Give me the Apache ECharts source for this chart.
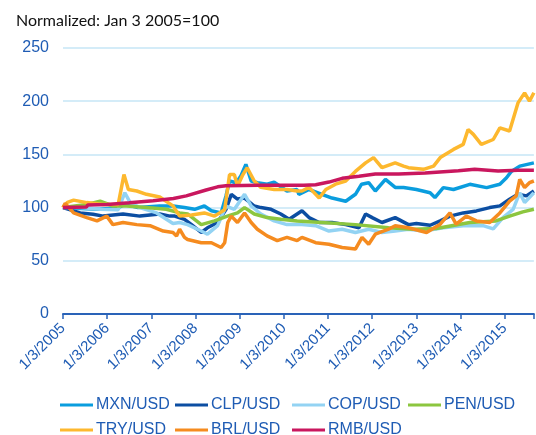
<!DOCTYPE html>
<html>
<head>
<meta charset="utf-8">
<script src="https://cdn.jsdelivr.net/npm/echarts@6/dist/echarts.min.js"></script>
<style>html,body{margin:0;padding:0;background:#fff}#c{width:536px;height:435px}</style>
</head>
<body>
<div id="c"></div>
<script>
// x = decimal year (2005.00 = Jan 3 2005), y = normalized value
const yearTicks = [2005,2006,2007,2008,2009,2010,2011,2012,2013,2014,2015];
const seriesNames = ['MXN/USD','CLP/USD','COP/USD','PEN/USD','TRY/USD','BRL/USD','RMB/USD'];

const mxn = [[2005.00,100],[2005.54,99],[2005.84,98.5],[2006.25,100],[2006.40,103],[2006.70,100],[2007.19,101.5],[2007.49,101.5],[2007.75,100],[2007.98,98.4],[2008.20,101.5],[2008.36,97],[2008.58,95],[2008.69,111],[2008.77,125],[2008.92,123.4],[2009.03,130],[2009.14,140.6],[2009.26,125],[2009.40,123.4],[2009.62,122],[2009.78,124],[2010.07,115.6],[2010.30,117],[2010.34,112.5],[2010.57,117],[2010.86,112.5],[2011.09,109],[2011.40,106],[2011.62,112.5],[2011.76,122],[2011.92,123.4],[2012.07,115.6],[2012.30,126.6],[2012.52,119],[2012.71,118.8],[2013.00,117],[2013.31,114],[2013.42,109.4],[2013.61,118.8],[2013.84,117],[2014.21,121.9],[2014.59,118.8],[2014.89,121.9],[2015.04,128],[2015.15,134],[2015.34,139],[2015.66,142]];

const clp = [[2005.00,100],[2005.39,95],[2005.68,93.8],[2005.91,92],[2006.36,94],[2006.74,92],[2007.19,94],[2007.42,92],[2007.53,92],[2007.75,89],[2007.91,84],[2008.13,76.6],[2008.27,81],[2008.50,86],[2008.69,98.4],[2008.81,112.5],[2008.95,108],[2009.11,109],[2009.33,101.5],[2009.48,100],[2009.71,98.4],[2009.93,94],[2010.12,89],[2010.30,94],[2010.41,97],[2010.57,90.6],[2010.80,86],[2011.09,86],[2011.40,84],[2011.70,81],[2011.85,94],[2012.00,90.6],[2012.22,86],[2012.52,90.6],[2012.82,84],[2013.00,85],[2013.31,83.4],[2013.54,87.5],[2013.76,92],[2014.06,95],[2014.36,96.9],[2014.66,100],[2014.89,101.6],[2015.11,107.8],[2015.30,112.5],[2015.49,111],[2015.66,115.6]];

const cop = [[2005.00,100],[2005.39,100],[2005.84,98.4],[2006.25,98],[2006.40,114],[2006.52,104.7],[2006.74,100],[2007.12,95],[2007.34,89],[2007.49,85],[2007.64,86],[2007.82,84],[2008.13,78],[2008.27,75],[2008.50,83],[2008.69,101.5],[2008.88,98.4],[2009.11,112.5],[2009.26,101.5],[2009.48,94],[2009.78,87.5],[2010.07,84],[2010.41,84],[2010.72,83],[2011.02,78],[2011.32,79.7],[2011.62,76.6],[2011.92,79.7],[2012.22,76.6],[2012.52,78],[2012.82,79.7],[2013.16,78],[2013.61,81],[2014.06,83],[2014.51,83],[2014.74,80],[2014.96,90.6],[2015.19,98.4],[2015.34,114],[2015.45,104.7],[2015.66,114]];

const pen = [[2005.00,100],[2005.54,103],[2005.84,106],[2006.13,101.5],[2006.44,101.5],[2006.89,100],[2007.34,98.4],[2007.64,95],[2007.82,94],[2008.13,84],[2008.43,87.5],[2008.72,92],[2008.95,95],[2009.11,100],[2009.33,94],[2009.62,90.6],[2009.93,89],[2010.30,87.5],[2010.86,86],[2011.62,84],[2012.37,81],[2012.93,79.7],[2013.45,80.3],[2014.21,86],[2014.80,87.5],[2015.11,92],[2015.41,96],[2015.66,98.4]];

const tryUsd = [[2005.00,100],[2005.10,105],[2005.24,107],[2005.54,104.7],[2005.91,103],[2006.25,103],[2006.38,131],[2006.48,117],[2006.67,115.6],[2006.89,112.5],[2007.19,110],[2007.49,101.6],[2007.64,92],[2007.91,93],[2008.20,95],[2008.43,92],[2008.66,98],[2008.77,131],[2008.88,131],[2008.95,120],[2009.06,130],[2009.17,137.5],[2009.33,125],[2009.48,119],[2009.78,117],[2010.07,117],[2010.30,115.6],[2010.41,115.6],[2010.57,119],[2010.80,109],[2010.95,117],[2011.17,122],[2011.40,125],[2011.62,134],[2011.85,142],[2012.03,147],[2012.22,137.5],[2012.52,142],[2012.71,139],[2012.82,137.5],[2013.16,136],[2013.39,139],[2013.54,147],[2013.84,154.7],[2014.06,159.4],[2014.17,173.4],[2014.29,168.8],[2014.47,159.4],[2014.74,164],[2014.89,175],[2015.11,172],[2015.30,198.4],[2015.45,207.8],[2015.56,200],[2015.66,208]];

const brl = [[2005.00,100],[2005.05,104],[2005.24,95],[2005.54,90.6],[2005.77,87.5],[2005.99,92],[2006.13,84],[2006.36,86],[2006.67,84],[2006.97,83],[2007.27,78],[2007.49,76.6],[2007.57,73.4],[2007.64,79.7],[2007.75,72],[2007.82,70],[2008.13,67],[2008.36,67],[2008.58,62.5],[2008.66,67],[2008.73,86],[2008.81,92],[2008.95,86],[2009.11,95],[2009.26,86],[2009.40,79.7],[2009.62,73.4],[2009.85,69],[2010.07,72],[2010.30,69],[2010.41,72],[2010.72,67],[2011.02,65.6],[2011.32,62.5],[2011.62,61],[2011.77,72],[2011.92,65.6],[2012.07,75],[2012.37,79.7],[2012.52,83],[2012.82,81],[2013.23,76.6],[2013.54,84.4],[2013.76,95],[2013.90,84.4],[2014.13,92],[2014.36,87.5],[2014.66,86],[2014.89,95],[2015.11,106],[2015.26,111],[2015.34,126.6],[2015.45,118.8],[2015.56,123.4],[2015.66,125]];

const rmb = [[2005.00,100],[2005.53,100.5],[2005.56,102.4],[2006.00,103],[2006.50,104.5],[2007.04,106.5],[2007.50,108.5],[2007.79,111],[2008.24,116.5],[2008.50,119.5],[2008.69,120.6],[2009.44,121],[2010.45,121],[2010.72,121.5],[2011.02,124],[2011.32,127.5],[2011.70,129.5],[2012.07,131.6],[2012.60,131.6],[2013.20,132.5],[2013.95,134.7],[2014.32,136],[2014.85,134.5],[2015.30,135],[2015.66,135]];

const seriesData = [mxn, clp, cop, pen, tryUsd, brl, rmb];
const colors = ['#0A9DDE','#0C4EA2','#93D3F3','#8CC63F','#FDB82E','#F58B1F','#C9175E'];
const blue = '#1F5CB4';
const font = 'Liberation Sans';

// legend grid: column lefts and row tops (layout only)
const legendLefts = [60, 175, 292, 408, 60, 175, 292];
const legendTops = [397, 397, 397, 397, 422, 422, 422];

const chart = echarts.init(document.getElementById('c'), null, {renderer:'canvas'});

chart.setOption({
  animation:false,
  color:colors,
  title:{text:'Normalized: Jan 3 2005=100', left:11, top:8,
    textStyle:{color:'#111', fontSize:16, fontWeight:'normal', fontFamily:'Lato'}},
  grid:{left:63, right:0, top:48, bottom:121},
  legend: seriesNames.map(function(n, i){
    return {
      left:legendLefts[i], top:legendTops[i], padding:0,
      icon:'rect', itemWidth:33, itemHeight:3,
      data:[n], selectedMode:false,
      textStyle:{color:blue, fontSize:16, fontFamily:font, padding:[0,0,0,-2]}
    };
  }),
  xAxis:{
    type:'value', min:2005, max:2015.66, interval:1,
    axisLine:{show:true, lineStyle:{color:'#2A63B8', width:2}},
    axisTick:{show:true, length:5, lineStyle:{color:'#2A63B8', width:1.5}},
    splitLine:{show:false},
    axisLabel:{
      rotate:45, color:blue, fontSize:15, fontFamily:font, margin:12,
      formatter:function(v){ return yearTicks.indexOf(v) >= 0 ? '1/3/' + v : ''; }
    }
  },
  yAxis:{
    type:'value', min:0, max:250, interval:50,
    axisLine:{show:false}, axisTick:{show:false},
    splitLine:{lineStyle:{color:'#D4ECF8', width:2}},
    axisLabel:{color:blue, fontSize:16, fontFamily:font, margin:14}
  },
  series: seriesNames.map(function(n, i){
    return {
      name:n, type:'line', data:seriesData[i], showSymbol:false, symbol:'none',
      lineStyle:{width:3.5, color:colors[i]}, itemStyle:{color:colors[i]}
    };
  })
});
</script>
</body>
</html>
